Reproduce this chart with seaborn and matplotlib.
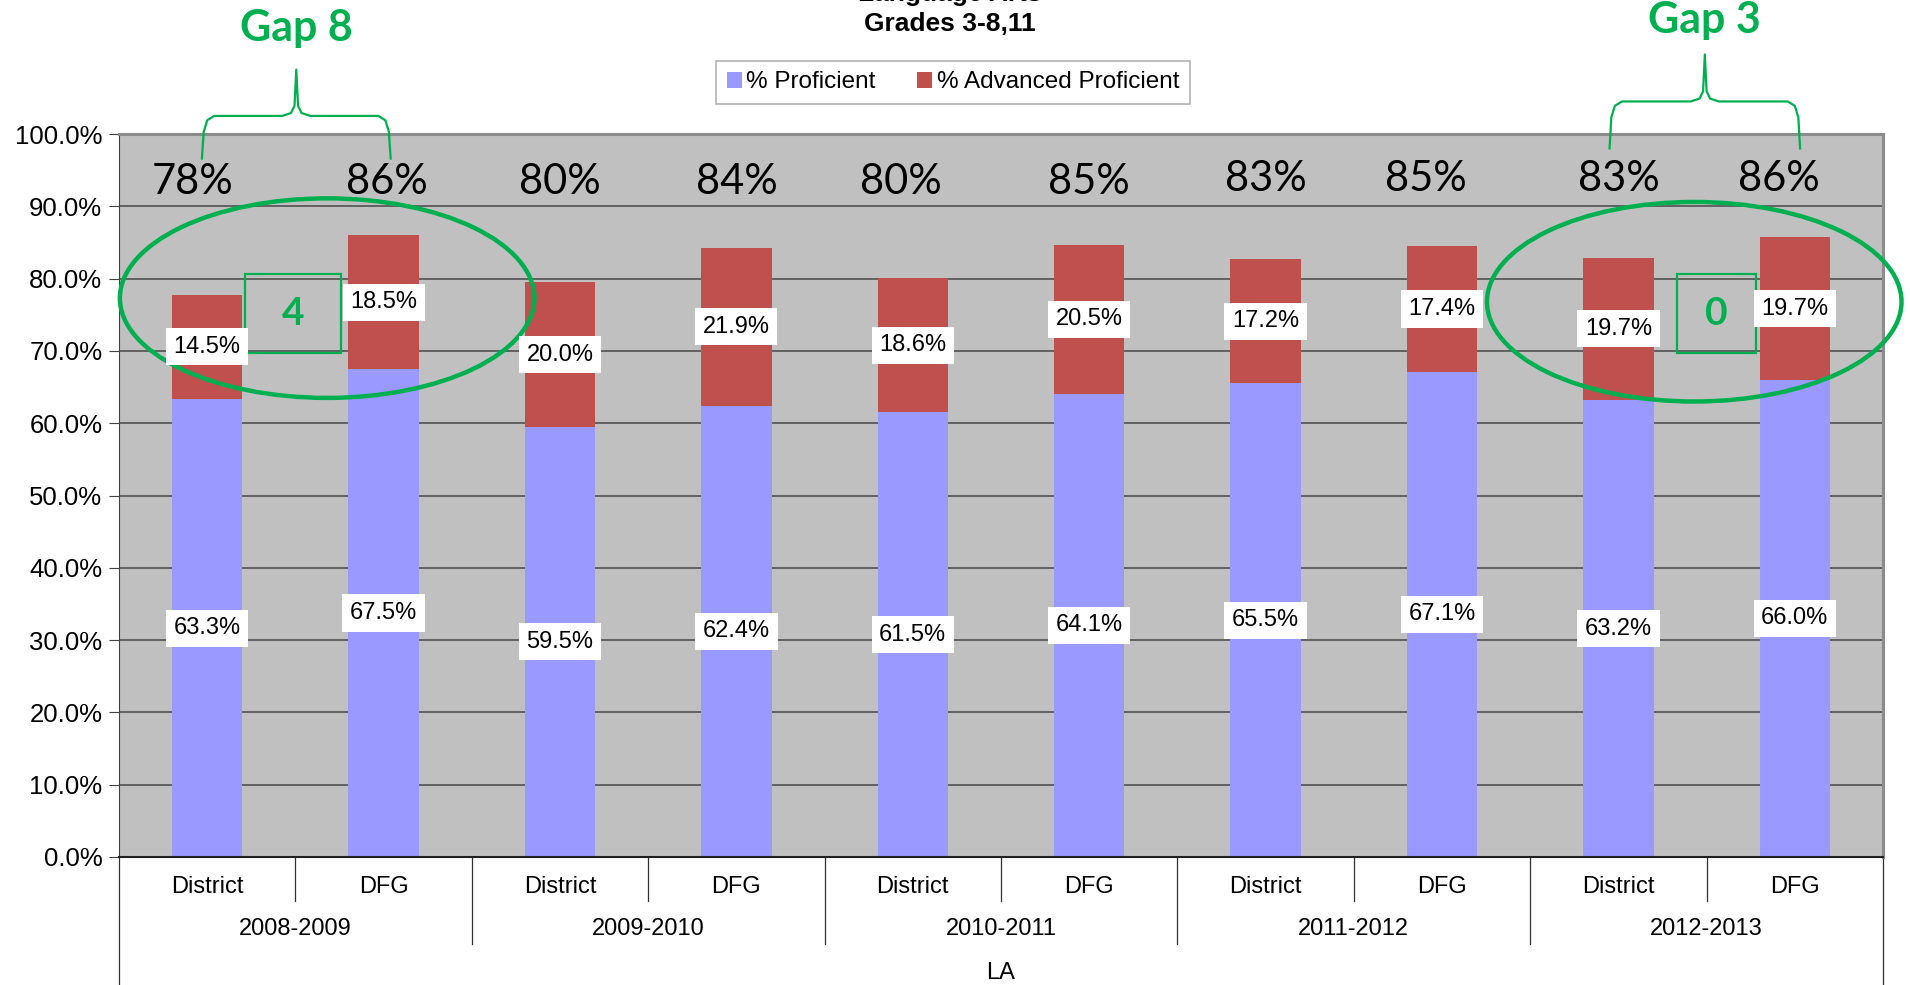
import matplotlib
matplotlib.use('Agg')
import matplotlib.pyplot as plt
import matplotlib.transforms as mtransforms
from matplotlib.patches import Ellipse, Rectangle, Patch
import seaborn as sns
import numpy as np
import pandas as pd

plt.rcParams['font.family'] = ['Liberation Sans', 'DejaVu Sans']

years = ["2008-2009", "2009-2010", "2010-2011", "2011-2012", "2012-2013"]
groups = ["District", "DFG"]
proficient = [63.3, 67.5, 59.5, 62.4, 61.5, 64.1, 65.5, 67.1, 63.2, 66.0]
advanced = [14.5, 18.5, 20.0, 21.9, 18.6, 20.5, 17.2, 17.4, 19.7, 19.7]
total_labels = ["78%", "86%", "80%", "84%", "80%", "85%", "83%", "85%", "83%", "86%"]
gap_labels = ["Gap 8", "Gap 3"]
gap_box_labels = ["4", "0"]

BLUE = "#9999FF"
RED = "#C0504D"
GREEN = "#00B050"
NARROW = ['Liberation Sans Narrow', 'Liberation Sans', 'DejaVu Sans']
CALIBRI_LIKE = ['Lato', 'DejaVu Sans']

df = pd.DataFrame({
    "year": np.repeat(years, len(groups)),
    "group": groups * len(years),
    "prof": proficient,
    "adv": advanced,
})
df["key"] = df["year"] + " " + df["group"]
df["total"] = df["prof"] + df["adv"]

fig = plt.figure(figsize=(19.1, 9.85), dpi=100)
ax = fig.add_axes([119 / 1910, 1 - 857 / 985, (1883 - 119) / 1910, (857 - 134) / 985])
ax.set_facecolor("#C0C0C0")

# stacked bars: totals in red underneath, proficient in blue on top
sns.barplot(data=df, x="key", y="total", color=RED, saturation=1, width=0.4,
            errorbar=None, linewidth=0, ax=ax)
sns.barplot(data=df, x="key", y="prof", color=BLUE, saturation=1, width=0.4,
            errorbar=None, linewidth=0, ax=ax)

ax.set_ylim(0, 100)
ax.set_xlim(-0.5, len(df) - 0.5)
ax.set_yticks(np.arange(0, 101, 10))
ax.set_yticklabels([f"{v:.1f}%" for v in np.arange(0, 101, 10)], fontsize=18.5)
ax.set_xticks(range(len(df)))
ax.set_xticklabels(df["group"], fontsize=17)
ax.tick_params(axis="x", length=0, pad=14)
ax.tick_params(axis="y", length=7, pad=5, color="#404040")
ax.set_xlabel("")
ax.set_ylabel("")
ax.yaxis.grid(True, color="#5A5A5A", lw=1.3)
ax.set_axisbelow(True)
for side in ["top", "right"]:
    ax.spines[side].set_color("#8C8C8C")
    ax.spines[side].set_linewidth(2.2)
ax.spines["left"].set_color("#404040")
ax.spines["bottom"].set_color("#202020")
ax.spines["bottom"].set_linewidth(1.5)

# data labels
label_box = dict(boxstyle="square,pad=0.32", fc="white", ec="none")
ax.bar_label(ax.containers[1], labels=[f"{v:.1f}%" for v in proficient],
             label_type="center", fontsize=17, family=NARROW, bbox=label_box, zorder=6)
# small horizontal nudges of the big total labels, as placed in the original
total_nudge = [-0.08, 0.02, 0.0, 0.0, -0.07, 0.0, 0.0, -0.09, 0.0, -0.09]
for i, (p, a) in enumerate(zip(proficient, advanced)):
    ax.text(i, p + a / 2, f"{a:.1f}%", ha="center", va="center", fontsize=17,
            family=NARROW, bbox=label_box, zorder=6)
    ax.text(i + total_nudge[i], 93.4 if i < 6 else 93.8, total_labels[i], ha="center",
            va="center", fontsize=30, family=CALIBRI_LIKE, color="black", zorder=6)

# multi-level category axis
trans = mtransforms.blended_transform_factory(ax.transData, ax.transAxes)
for i in range(1, len(df)):
    depth = -0.121 if i % 2 == 0 else -0.061
    ax.plot([i - 0.5, i - 0.5], [0, depth], transform=trans, color="#303030",
            lw=0.9, clip_on=False)
for x in [-0.5, len(df) - 0.5]:
    ax.plot([x, x], [0, -0.19], transform=trans, color="#303030", lw=0.9, clip_on=False)
for k, yr in enumerate(years):
    ax.text(2 * k + 0.5, -0.100, yr, transform=trans, ha="center", va="center", fontsize=17)
ax.text((len(df) - 1) / 2, -0.160, "LA", transform=trans, ha="center", va="center", fontsize=17)

# green annotations: ellipses, gap boxes, braces
ellipses = [(0.68, 77.3), (8.43, 76.8)]
for cx, cy in ellipses:
    ax.add_patch(Ellipse((cx, cy), 2.35, 27.6, fill=False, ec=GREEN, lw=3.2,
                         clip_on=False, zorder=5))

boxes = [(0.214, 0.76), (8.33, 8.78)]
for (x0, x1), txt in zip(boxes, gap_box_labels):
    ax.add_patch(Rectangle((x0, 69.7), x1 - x0, 10.9, fill=False, ec=GREEN, lw=1.6,
                           zorder=5))
    ax.text((x0 + x1) / 2, 75.2, txt, ha="center", va="center", fontsize=28,
            fontweight="bold", family=CALIBRI_LIKE, color=GREEN, zorder=6)


def brace(x0, x1, y_leg, y_bar, y_tip):
    mid = (x0 + x1) / 2
    xs = [x0, x0 + 0.01, x0 + 0.03, x0 + 0.07, mid - 0.08, mid - 0.03, mid - 0.01, mid,
          mid + 0.01, mid + 0.03, mid + 0.08, x1 - 0.07, x1 - 0.03, x1 - 0.01, x1]
    ys = [y_leg, y_bar - 2.2, y_bar - 0.6, y_bar, y_bar, y_bar + 0.4, y_bar + 1.4, y_tip,
          y_bar + 1.4, y_bar + 0.4, y_bar, y_bar, y_bar - 0.6, y_bar - 2.2, y_leg]
    ax.plot(xs, ys, color=GREEN, lw=1.6, clip_on=False, zorder=6)
    return mid


braces = [(-0.03, 1.04, 96.6, 102.5, 108.9, 114.6), (7.95, 9.03, 98.0, 104.5, 111.0, 115.8)]
for (x0, x1, yl, yb, yt, ytxt), txt in zip(braces, gap_labels):
    mid = brace(x0, x1, yl, yb, yt)
    ax.text(mid, ytxt, txt, ha="center", va="center", fontsize=31, fontweight="bold",
            family=CALIBRI_LIKE, color=GREEN, clip_on=False)

# title and legend
fig.text(950 / 1910, 1 + 6 / 985, "Language Arts", ha="center", va="center",
         fontsize=19, fontweight="bold")
fig.text(950 / 1910, 1 - 24 / 985, "Grades 3-8,11", ha="center", va="center",
         fontsize=19, fontweight="bold")

handles = [Patch(fc=BLUE, label="% Proficient"), Patch(fc=RED, label="% Advanced Proficient")]
leg = fig.legend(handles=handles, loc="center", bbox_to_anchor=(953 / 1910, 1 - 82.5 / 985),
                 ncol=2, frameon=True, fancybox=False, edgecolor="#A0A0A0", fontsize=17.5,
                 handlelength=0.6, handleheight=0.6, handletextpad=0.2, columnspacing=1.7,
                 borderpad=0.45, borderaxespad=0)
leg.get_frame().set_linewidth(1.2)

fig.savefig("out.png", dpi=100, facecolor="white")
